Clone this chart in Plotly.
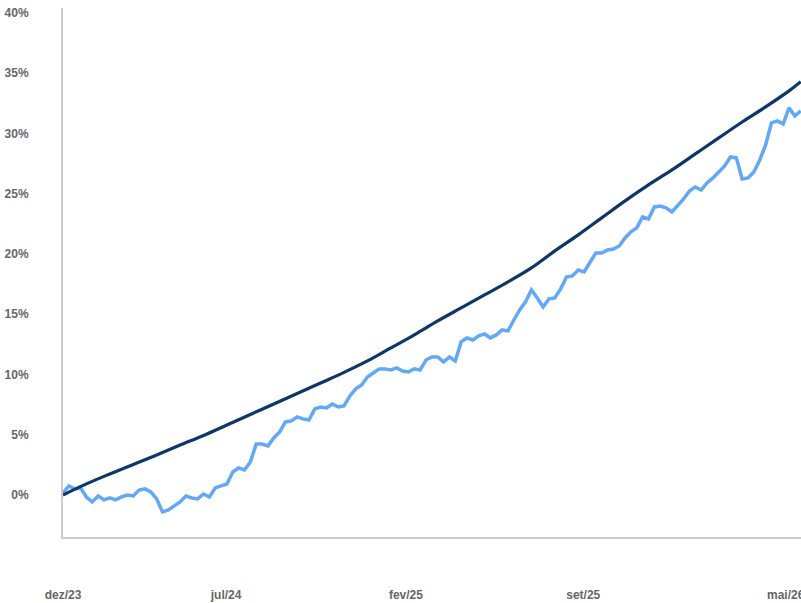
import pandas as pd
import plotly.graph_objects as go

# weekly observation dates
start_date = "2023-12-19"
n_weeks = 127
dates = pd.date_range(start=start_date, periods=n_weeks, freq="7D")

# light blue series (% accumulated), one value per week
light_values = [
    0.17, 0.75, 0.50, 0.58, -0.17, -0.58, -0.08, -0.41, -0.25, -0.41,
    -0.17, 0.00, -0.08, 0.41, 0.50, 0.25, -0.33, -1.41, -1.24, -0.91,
    -0.58, -0.08, -0.25, -0.33, 0.08, -0.17, 0.58, 0.75, 0.91, 1.91,
    2.24, 2.07, 2.74, 4.23, 4.23, 4.07, 4.73, 5.23, 6.06, 6.14,
    6.47, 6.31, 6.22, 7.14, 7.30, 7.22, 7.55, 7.30, 7.39, 8.22,
    8.80, 9.13, 9.79, 10.12, 10.46, 10.46, 10.37, 10.54, 10.29, 10.21,
    10.46, 10.37, 11.20, 11.45, 11.45, 11.04, 11.45, 11.12, 12.70, 13.03,
    12.86, 13.20, 13.36, 13.03, 13.28, 13.69, 13.61, 14.52, 15.35, 16.02,
    17.01, 16.35, 15.60, 16.27, 16.35, 17.10, 18.09, 18.17, 18.67, 18.51,
    19.34, 20.08, 20.08, 20.33, 20.41, 20.66, 21.33, 21.83, 22.16, 23.07,
    22.90, 23.90, 23.98, 23.82, 23.49, 23.98, 24.56, 25.23, 25.56, 25.31,
    25.89, 26.31, 26.80, 27.30, 28.05, 27.97, 26.22, 26.31, 26.80, 27.80,
    29.05, 30.87, 31.04, 30.79, 32.12, 31.45, 31.87,
]

# dark navy series (% accumulated), one value every 4 weeks plus the last week
dark_values = [
    0.00, 0.92, 1.74, 2.53, 3.32, 4.15, 4.94, 5.81, 6.68, 7.55,
    8.42, 9.29, 10.17, 11.12, 12.20, 13.28, 14.44, 15.52, 16.60, 17.68,
    18.84, 20.25, 21.58, 22.99, 24.40, 25.73, 26.97, 28.30, 29.63, 30.95,
    32.20, 33.53, 34.30,
]
dark_dates = list(dates[::4]) + [dates[-1]]

# axis labels
x_tick_dates = ["2023-12-19", "2024-07-01", "2025-02-01", "2025-09-01", "2026-05-01"]
x_tick_text = ["dez/23", "jul/24", "fev/25", "set/25", "mai/26"]
x_range = ["2023-12-19", "2026-06-23"]
y_tick_vals = [0, 5, 10, 15, 20, 25, 30, 35, 40]
y_tick_text = ["0%", "5%", "10%", "15%", "20%", "25%", "30%", "35%", "40%"]

fig = go.Figure()
fig.add_trace(go.Scatter(
    x=dates, y=light_values, mode="lines",
    line=dict(color="#62a8f7", width=3.5),
    showlegend=False, hoverinfo="skip",
))
fig.add_trace(go.Scatter(
    x=dark_dates, y=dark_values, mode="lines",
    line=dict(color="#0e3667", width=3.2, shape="spline"),
    showlegend=False, hoverinfo="skip",
))

tick_font = dict(family="Liberation Sans, Arial, sans-serif", size=12,
                 color="#666666", weight="bold")

# the chart continues past the right edge of the 801px window and is clipped there
fig.update_layout(
    width=830, height=603,
    margin=dict(l=63, r=0, t=8, b=66),
    paper_bgcolor="white", plot_bgcolor="white",
    xaxis=dict(
        type="date",
        range=x_range,
        tickmode="array", tickvals=x_tick_dates, ticktext=x_tick_text,
        showgrid=False, zeroline=False,
        showline=True, linecolor="#cccccc", linewidth=2,
        ticks="", tickfont=tick_font, ticklabelstandoff=46,
    ),
    yaxis=dict(
        range=[-3.49, 40.41],
        tickmode="array", tickvals=y_tick_vals, ticktext=y_tick_text,
        showgrid=False, zeroline=False,
        showline=True, linecolor="#cccccc", linewidth=2,
        ticks="", tickfont=tick_font, ticklabelstandoff=30,
    ),
)

fig.write_html(
    "out.html",
    config={"displayModeBar": False},
    post_script="document.body.style.margin='0';document.body.style.overflow='hidden';",
)
